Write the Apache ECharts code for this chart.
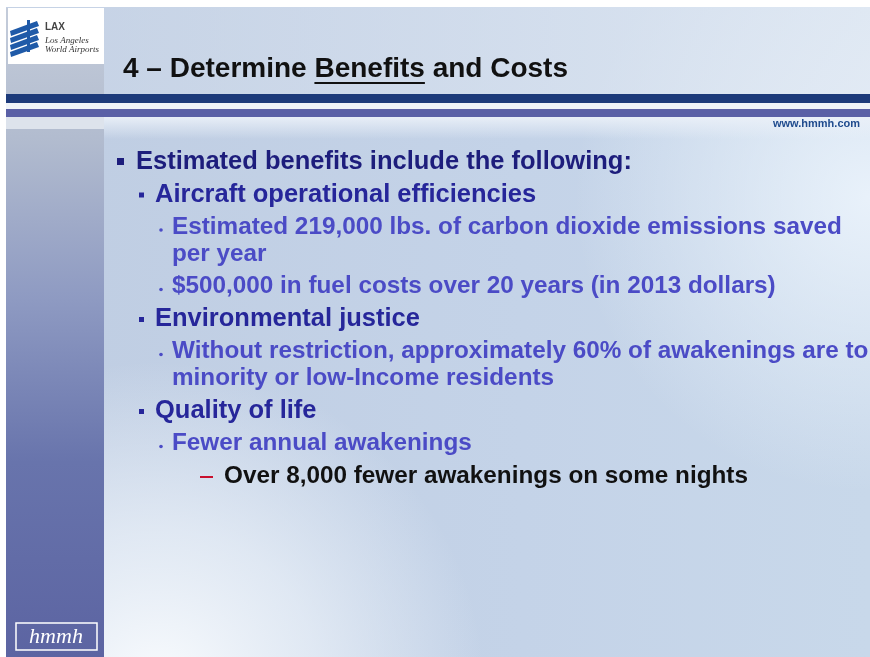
<!DOCTYPE html>
<html>
<head>
<meta charset="utf-8">
<script src="https://cdn.jsdelivr.net/npm/echarts@6/dist/echarts.min.js"></script>
<style>
  html, body { margin: 0; padding: 0; }
  #main { width: 870px; height: 657px; }
</style>
</head>
<body>
<div id="main"></div>
<script>
// slide text
const titleParts = ['4 – Determine ', 'Benefits', ' and Costs']
const siteUrl = 'www.hmmh.com'
const bulletLevels = [1, 2, 3, 0, 3, 2, 3, 0, 2, 3, 4]
const bulletTexts = [
  'Estimated benefits include the following:',
  'Aircraft operational efficiencies',
  'Estimated 219,000 lbs. of carbon dioxide emissions saved',
  'per year',
  '$500,000 in fuel costs over 20 years (in 2013 dollars)',
  'Environmental justice',
  'Without restriction, approximately 60% of awakenings are to',
  'minority or low-Income residents',
  'Quality of life',
  'Fewer annual awakenings',
  'Over 8,000 fewer awakenings on some nights'
]
const logoLines = ['LAX', 'Los Angeles', 'World Airports']

const FONT = '"Liberation Sans", Arial, sans-serif'
const textColors = { 1: '#1d1d7c', 2: '#26269a', 3: '#4b4bc6', 4: '#111111' }
const textX = { 1: 136, 2: 155, 3: 172, 4: 224 }
const textSize = { 1: 25.5, 2: 25.5, 3: 24.3, 4: 24.3 }

let chart = echarts.init(document.getElementById('main'), null, { renderer: 'canvas' })

function measure(txt, font) {
  let c = document.createElement('canvas').getContext('2d')
  c.font = font
  return c.measureText(txt).width
}

function buildGraphic() {
  let els = []
  // background
  els.push({
    type: 'rect', shape: { x: 0, y: 0, width: 870, height: 657 },
    style: { fill: new echarts.graphic.LinearGradient(0, 0, 1, 0, [
      { offset: 0, color: '#bfcde2' },
      { offset: 0.6, color: '#c4d3e8' },
      { offset: 1, color: '#c8d8ea' }
    ]) }, z: 0
  })
  els.push({
    type: 'rect', shape: { x: 0, y: 0, width: 870, height: 657 },
    style: { fill: new echarts.graphic.RadialGradient(1, 0.3, 0.45, [
      { offset: 0, color: 'rgba(236,244,252,0.9)' },
      { offset: 1, color: 'rgba(236,244,252,0)' }
    ]) }, z: 1
  })
  els.push({
    type: 'rect', shape: { x: 0, y: 0, width: 870, height: 657 },
    style: { fill: new echarts.graphic.RadialGradient(0.18, 1.05, 0.5, [
      { offset: 0, color: 'rgba(250,252,254,1)' },
      { offset: 0.5, color: 'rgba(236,242,249,0.7)' },
      { offset: 1, color: 'rgba(236,242,249,0)' }
    ]) }, z: 1
  })
  els.push({
    type: 'rect', shape: { x: 0, y: 0, width: 870, height: 94 },
    style: { fill: new echarts.graphic.LinearGradient(0, 0, 1, 0, [
      { offset: 0, color: 'rgba(200,212,230,0.6)' },
      { offset: 1, color: 'rgba(226,234,244,0.8)' }
    ]) }, z: 1
  })
  els.push({
    type: 'rect', shape: { x: 0, y: 117, width: 870, height: 22 },
    style: { fill: new echarts.graphic.LinearGradient(0, 0, 0, 1, [
      { offset: 0, color: 'rgba(234,240,248,0.95)' },
      { offset: 1, color: 'rgba(234,240,248,0)' }
    ]) }, z: 1
  })
  // left column
  els.push({
    type: 'rect', shape: { x: 6, y: 8, width: 98, height: 649 },
    style: { fill: new echarts.graphic.LinearGradient(0, 0, 0, 1, [
      { offset: 0, color: '#c4ccda' },
      { offset: 0.2, color: '#b2bccf' },
      { offset: 0.45, color: '#8e9ac2' },
      { offset: 0.7, color: '#6874ac' },
      { offset: 1, color: '#5c64a2' }
    ]) }, z: 2
  })
  els.push({ type: 'rect', shape: { x: 6, y: 117, width: 98, height: 12 }, style: { fill: '#dde3ec' }, z: 3 })
  // white frame edges
  els.push({ type: 'rect', shape: { x: 0, y: 0, width: 870, height: 7 }, style: { fill: '#ffffff' }, z: 5 })
  els.push({ type: 'rect', shape: { x: 0, y: 0, width: 6, height: 657 }, style: { fill: '#ffffff' }, z: 5 })
  // LAX logo box
  els.push({ type: 'rect', shape: { x: 8, y: 8, width: 96, height: 56 }, style: { fill: '#ffffff' }, z: 5 })
  for (let i = 0; i < 4; i++) {
    els.push({
      type: 'polygon',
      shape: { points: [[10, 31 + i * 7], [37, 21 + i * 7], [39, 26 + i * 7], [11, 36 + i * 7]] },
      style: { fill: '#1f5aa8' }, z: 6
    })
  }
  els.push({ type: 'rect', shape: { x: 27, y: 20, width: 3, height: 32 }, style: { fill: '#1f5aa8' }, z: 6 })
  els.push({ type: 'text', x: 45, y: 22, style: { text: logoLines[0], font: 'bold 10px ' + FONT, fill: '#444444' }, z: 6 })
  els.push({ type: 'text', x: 45, y: 36, style: { text: logoLines[1], font: 'italic 9px "Liberation Serif", serif', fill: '#333333' }, z: 6 })
  els.push({ type: 'text', x: 45, y: 45, style: { text: logoLines[2], font: 'italic 9px "Liberation Serif", serif', fill: '#333333' }, z: 6 })

  // title
  let titleFont = 'bold 28px ' + FONT
  let x = 123
  let w0 = measure(titleParts[0], titleFont)
  let w1 = measure(titleParts[1], titleFont)
  els.push({ type: 'text', x: x, y: 69, style: { text: titleParts.join(''), font: titleFont, fill: '#111111', verticalAlign: 'middle' }, z: 6 })
  els.push({ type: 'rect', shape: { x: x + w0, y: 82, width: w1, height: 2 }, style: { fill: '#111111' }, z: 6 })

  // bars
  els.push({ type: 'rect', shape: { x: 6, y: 94, width: 864, height: 9 }, style: { fill: '#1c3a7a' }, z: 6 })
  els.push({ type: 'rect', shape: { x: 6, y: 103, width: 864, height: 6 }, style: { fill: '#eef2f8' }, z: 6 })
  els.push({ type: 'rect', shape: { x: 6, y: 109, width: 864, height: 8 }, style: { fill: '#5a60a6' }, z: 6 })
  els.push({ type: 'text', x: 860, y: 124, style: { text: siteUrl, font: 'bold 11px ' + FONT, fill: '#1f4b8e', align: 'right', verticalAlign: 'middle' }, z: 6 })

  // bullets
  let y = 162
  let prevLevel = 1
  bulletTexts.forEach((t, i) => {
    let lv = bulletLevels[i]
    if (i > 0) y += lv === 0 ? 27 : 32.5
    let level = lv === 0 ? prevLevel : lv
    let font = 'bold ' + textSize[level] + 'px ' + FONT
    els.push({ type: 'text', x: textX[level], y: y, style: { text: t, font: font, fill: textColors[level], verticalAlign: 'middle' }, z: 7 })
    if (lv === 1) {
      els.push({ type: 'rect', shape: { x: 117, y: y - 4, width: 7, height: 7 }, style: { fill: textColors[1] }, z: 7 })
    } else if (lv === 2) {
      els.push({ type: 'rect', shape: { x: 139, y: y - 2, width: 5, height: 5 }, style: { fill: textColors[2] }, z: 7 })
    } else if (lv === 3) {
      els.push({ type: 'circle', shape: { cx: 161, cy: y + 3, r: 1.8 }, style: { fill: textColors[3] }, z: 7 })
    } else if (lv === 4) {
      els.push({ type: 'rect', shape: { x: 200, y: y, width: 13, height: 2 }, style: { fill: '#c8102e' }, z: 7 })
    }
    if (lv !== 0) prevLevel = lv
  })

  // hmmh logo
  els.push({ type: 'rect', shape: { x: 16, y: 623, width: 81, height: 27 }, style: { fill: 'none', stroke: '#ffffff', lineWidth: 1.5 }, z: 7 })
  els.push({ type: 'text', x: 56, y: 637, style: { text: 'hmmh', font: 'italic 22px "Liberation Serif", serif', fill: '#ffffff', align: 'center', verticalAlign: 'middle' }, z: 7 })
  return els
}

let option = {
  animation: false,
  graphic: { elements: buildGraphic() }
}
chart.setOption(option)
</script>
</body>
</html>
